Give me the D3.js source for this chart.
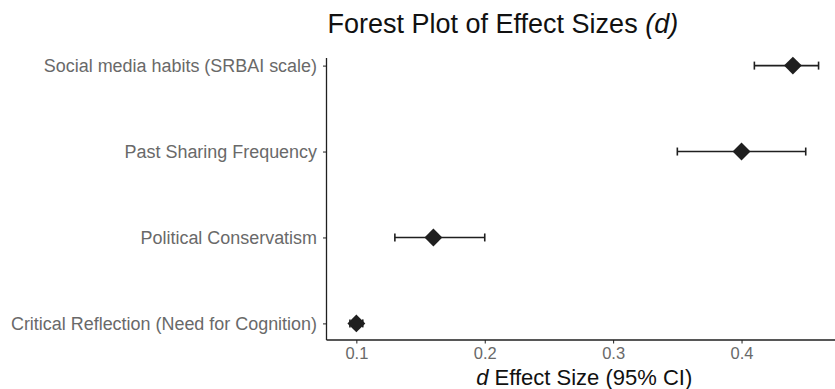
<!DOCTYPE html>
<html>
<head>
<meta charset="utf-8">
<script src="https://cdn.jsdelivr.net/npm/d3@7"></script>
<style>
  html, body { margin: 0; padding: 0; background: #fff; }
  svg { display: block; font-family: "Liberation Sans", Arial, Helvetica, sans-serif; }
</style>
</head>
<body>
<svg id="chart" width="835" height="389"></svg>
<script>
// ---- data ----
const categories = [
  "Social media habits (SRBAI scale)",
  "Past Sharing Frequency",
  "Political Conservatism",
  "Critical Reflection (Need for Cognition)"
];
const estimates = [0.44, 0.40, 0.16, 0.10];
const lowerCI   = [0.41, 0.35, 0.13, 0.095];
const upperCI   = [0.46, 0.45, 0.20, 0.105];
const xTicks    = [0.1, 0.2, 0.3, 0.4];

const rows = categories.map((c, i) => ({ cat: c, est: estimates[i], lo: lowerCI[i], hi: upperCI[i] }));

// ---- layout ----
const W = 835, H = 389;
const panel = { left: 326.5, right: 842, top: 58, bottom: 340 };
const svg = d3.select("#chart");

const minV = d3.min(lowerCI), maxV = d3.max(upperCI);
const pad = (maxV - minV) * 0.05;
const x = d3.scaleLinear().domain([minV - pad, maxV + pad]).range([panel.left, panel.right]);
const y = d3.scalePoint().domain(categories).range([65.6, 323.4]);

const ink = "#1f1f1f";
const grey = "#696969";

// axes lines
svg.append("line").attr("x1", panel.left).attr("x2", panel.right)
  .attr("y1", panel.bottom).attr("y2", panel.bottom)
  .attr("stroke", ink).attr("stroke-width", 1.3);
svg.append("line").attr("x1", panel.left).attr("x2", panel.left)
  .attr("y1", panel.top).attr("y2", panel.bottom)
  .attr("stroke", ink).attr("stroke-width", 1.3);

// x axis
const xAxis = d3.axisBottom(x).tickValues(xTicks).tickSize(3.5).tickPadding(4).tickFormat(d3.format(".1f"));
const gx = svg.append("g").attr("transform", `translate(0,${panel.bottom})`).call(xAxis);
gx.select(".domain").remove();
gx.selectAll(".tick line").attr("stroke", ink).attr("stroke-width", 1);
gx.selectAll(".tick text").attr("fill", grey).style("font-size", "16.5px")
  .style("font-family", '"Liberation Sans", Arial, sans-serif');

// y axis
const yAxis = d3.axisLeft(y).tickSize(3.5).tickPadding(6);
const gy = svg.append("g").attr("transform", `translate(${panel.left},0)`).call(yAxis);
gy.select(".domain").remove();
gy.selectAll(".tick line").attr("stroke", ink).attr("stroke-width", 1);
gy.selectAll(".tick text").attr("fill", grey).style("font-size", "17.95px")
  .style("font-family", '"Liberation Sans", Arial, sans-serif');

// error bars
const capH = 4;
const eb = svg.append("g");
eb.selectAll("line.ci").data(rows).join("line").attr("class", "ci")
  .attr("x1", d => x(d.lo)).attr("x2", d => x(d.hi))
  .attr("y1", d => y(d.cat)).attr("y2", d => y(d.cat))
  .attr("stroke", ink).attr("stroke-width", 1.6);
eb.selectAll("line.capl").data(rows).join("line").attr("class", "capl")
  .attr("x1", d => x(d.lo)).attr("x2", d => x(d.lo))
  .attr("y1", d => y(d.cat) - capH).attr("y2", d => y(d.cat) + capH)
  .attr("stroke", ink).attr("stroke-width", 1.6);
eb.selectAll("line.caph").data(rows).join("line").attr("class", "caph")
  .attr("x1", d => x(d.hi)).attr("x2", d => x(d.hi))
  .attr("y1", d => y(d.cat) - capH).attr("y2", d => y(d.cat) + capH)
  .attr("stroke", ink).attr("stroke-width", 1.6);

// diamonds
const sym = d3.symbol().type(d3.symbolSquare).size(160);
svg.append("g").selectAll("path").data(rows).join("path")
  .attr("d", sym)
  .attr("transform", d => `translate(${x(d.est)},${y(d.cat)}) rotate(45)`)
  .attr("fill", ink);

// title
const t = svg.append("text").attr("x", panel.left + 1).attr("y", 33)
  .attr("fill", "#111").style("font-size", "27px");
t.append("tspan").text("Forest Plot of Effect Sizes ");
t.append("tspan").style("font-style", "italic").text("(d)");

// x title
const xt = svg.append("text").attr("x", (panel.left + panel.right) / 2).attr("y", 385)
  .attr("text-anchor", "middle").attr("fill", "#111").style("font-size", "22px");
xt.append("tspan").style("font-style", "italic").text("d");
xt.append("tspan").text(" Effect Size (95% CI)");
</script>
</body>
</html>
